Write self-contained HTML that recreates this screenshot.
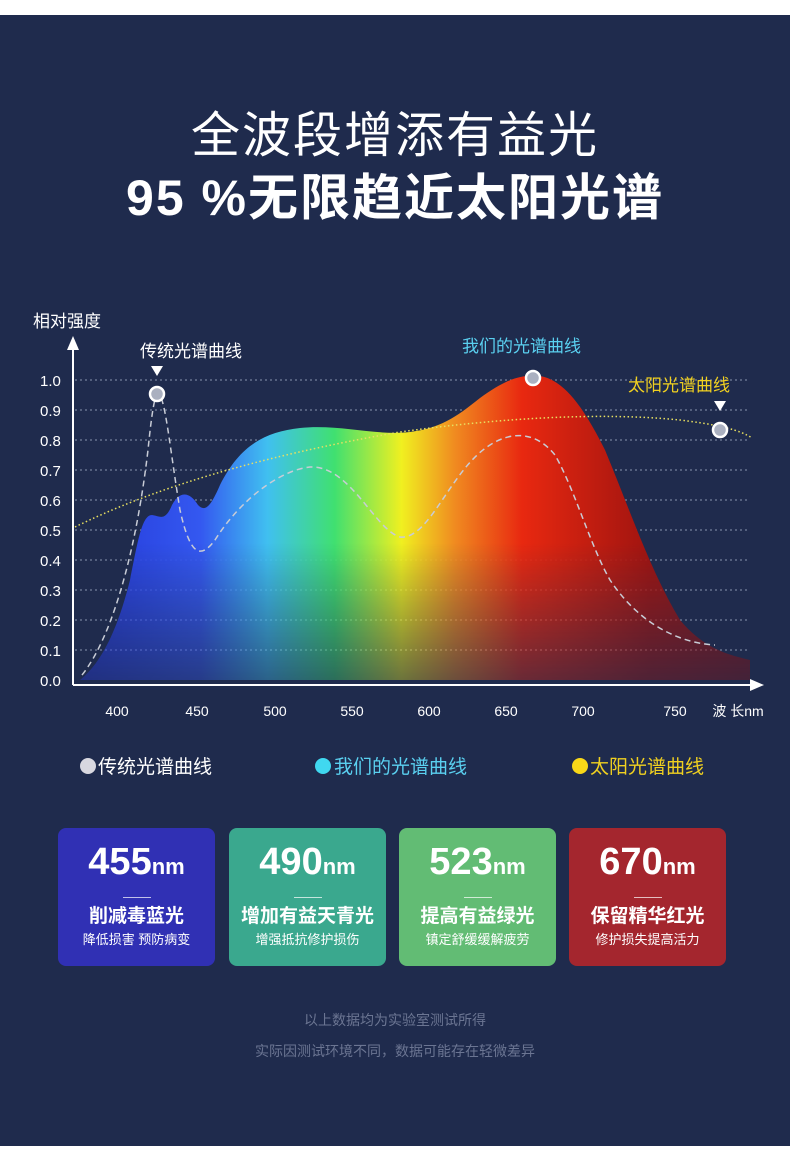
<!DOCTYPE html>
<html><head><meta charset="utf-8"><style>
body{margin:0;width:790px;height:1159px;background:#fff;font-family:"Liberation Sans","Noto Sans CJK SC",sans-serif;overflow:hidden}
#bg{position:absolute;left:0;top:15px;width:790px;height:1131px;background:#1f2b4d}
.t{position:absolute;left:0;width:790px;text-align:center;color:#fff}
.card{position:absolute;top:828px;width:157px;height:138px;border-radius:8px;color:#fff;text-align:center}
.card .n{font-size:38px;font-weight:bold;margin-top:12px;line-height:44px}
.card .n span{font-size:22px}
.card .l{width:28px;height:1px;background:rgba(255,255,255,.7);margin:8px auto 6px}
.card .a{font-size:19px;font-weight:bold;line-height:26px}
.card .b{font-size:13px;line-height:20px}
</style></head><body>
<div id="bg"></div>
<div class="t" style="top:96px;font-size:49px;letter-spacing:2px">全波段增添有益光</div>
<div class="t" style="top:158px;font-size:50px;font-weight:bold;letter-spacing:2px">95 %无限趋近太阳光谱</div>
<svg style="position:absolute;left:0;top:0" width="790" height="800">
<defs>
<linearGradient id="rb" x1="80" x2="750" y1="0" y2="0" gradientUnits="userSpaceOnUse">
<stop offset="0" stop-color="#2438d8"/><stop offset=".18" stop-color="#3458f0"/><stop offset=".28" stop-color="#40c0f0"/><stop offset=".38" stop-color="#40e070"/><stop offset=".48" stop-color="#f0f020"/><stop offset=".56" stop-color="#f08a20"/><stop offset=".66" stop-color="#e82810"/><stop offset=".85" stop-color="#a01410"/><stop offset="1" stop-color="#801418"/></linearGradient>
<linearGradient id="fd" x1="0" x2="0" y1="0" y2="1"><stop offset=".55" stop-color="#fff" stop-opacity="1"/><stop offset="1" stop-color="#fff" stop-opacity=".35"/></linearGradient>
<mask id="m"><rect x="0" y="370" width="790" height="315" fill="url(#fd)"/></mask>
</defs>
<g fill="#fff" font-size="15">
<text x="33" y="327" font-size="17">相对强度</text>
<text x="40" y="386">1.0</text><text x="40" y="416">0.9</text><text x="40" y="446">0.8</text><text x="40" y="476">0.7</text><text x="40" y="506">0.6</text><text x="40" y="536">0.5</text><text x="40" y="566">0.4</text><text x="40" y="596">0.3</text><text x="40" y="626">0.2</text><text x="40" y="656">0.1</text><text x="40" y="686">0.0</text>
</g>
<g stroke="#8a94b0" stroke-dasharray="2,3" stroke-width="1">
<line x1="75" x2="750" y1="380" y2="380"/><line x1="75" x2="750" y1="410" y2="410"/><line x1="75" x2="750" y1="440" y2="440"/><line x1="75" x2="750" y1="470" y2="470"/><line x1="75" x2="750" y1="500" y2="500"/><line x1="75" x2="750" y1="530" y2="530"/><line x1="75" x2="750" y1="560" y2="560"/><line x1="75" x2="750" y1="590" y2="590"/><line x1="75" x2="750" y1="620" y2="620"/><line x1="75" x2="750" y1="650" y2="650"/>
</g>
<path mask="url(#m)" fill="url(#rb)" d="M80,680 C105,660 120,620 130,580 C138,540 142,515 152,515 C160,516 165,522 172,505 C180,490 190,492 198,505 C205,512 210,508 220,485 C240,445 265,432 300,428 C340,424 375,436 410,432 C440,428 455,418 480,398 C505,380 520,374 540,376 C565,380 585,410 605,450 C630,510 650,570 680,620 C705,650 730,655 750,660 L750,680 Z"/>
<path d="M75,527 C150,490 250,458 400,432 C500,418 600,412 680,420 C720,425 740,430 752,438" fill="none" stroke="#e8e060" stroke-width="1.5" stroke-dasharray="1.5,2.5"/>
<path d="M82,675 C110,640 135,560 148,450 C152,410 155,394 158,394 C165,394 170,450 180,510 C190,555 200,560 215,540 C240,500 280,470 310,467 C350,465 375,530 400,537 C430,540 450,470 490,445 C510,432 535,430 555,455 C575,490 590,545 610,580 C640,625 680,643 715,645" fill="none" stroke="#c8ccd6" stroke-width="1.5" stroke-dasharray="6,4"/>
<g fill="#aab0c0" stroke="#fff" stroke-width="2.5"><circle cx="157" cy="394" r="7"/><circle cx="533" cy="378" r="7"/><circle cx="720" cy="430" r="7"/></g>
<g fill="#fff"><path d="M151,366 L163,366 L157,376Z"/><path d="M714,401 L726,401 L720,411Z"/></g>
<text x="140" y="357" fill="#fff" font-size="17">传统光谱曲线</text>
<text x="462" y="352" fill="#5ad0f0" font-size="17">我们的光谱曲线</text>
<text x="628" y="391" fill="#f0d020" font-size="17">太阳光谱曲线</text>
<line x1="73" y1="345" x2="73" y2="685" stroke="#fff" stroke-width="2"/>
<line x1="73" y1="685" x2="755" y2="685" stroke="#fff" stroke-width="2"/>
<path d="M67,350 L73,336 L79,350Z" fill="#fff"/><path d="M750,679 L764,685 L750,691Z" fill="#fff"/>
<g fill="#fff" font-size="14" text-anchor="middle">
<text x="117" y="716">400</text><text x="197" y="716">450</text><text x="275" y="716">500</text><text x="352" y="716">550</text><text x="429" y="716">600</text><text x="506" y="716">650</text><text x="583" y="716">700</text><text x="675" y="716">750</text><text x="738" y="716">波 长nm</text>
</g>
<g font-size="19" fill="#fff">
<circle cx="88" cy="766" r="8" fill="#d8d8e0"/><text x="98" y="773">传统光谱曲线</text>
<circle cx="323" cy="766" r="8" fill="#40d8f0"/><text x="334" y="773" fill="#5ad0f0">我们的光谱曲线</text>
<circle cx="580" cy="766" r="8" fill="#f8d818"/><text x="590" y="773" fill="#f0d020">太阳光谱曲线</text>
</g>
</svg>
<div class="card" style="left:58px;background:#3030b4"><div class="n">455<span>nm</span></div><div class="l"></div><div class="a">削减毒蓝光</div><div class="b">降低损害 预防病变</div></div>
<div class="card" style="left:229px;background:#3aa88e"><div class="n">490<span>nm</span></div><div class="l"></div><div class="a">增加有益天青光</div><div class="b">增强抵抗修护损伤</div></div>
<div class="card" style="left:399px;background:#62bc74"><div class="n">523<span>nm</span></div><div class="l"></div><div class="a">提高有益绿光</div><div class="b">镇定舒缓缓解疲劳</div></div>
<div class="card" style="left:569px;background:#a4262e"><div class="n">670<span>nm</span></div><div class="l"></div><div class="a">保留精华红光</div><div class="b">修护损失提高活力</div></div>
<div class="t" style="top:1010px;font-size:14px;color:#6b7592">以上数据均为实验室测试所得</div>
<div class="t" style="top:1041px;font-size:14px;color:#6b7592">实际因测试环境不同，数据可能存在轻微差异</div>
</body></html>
